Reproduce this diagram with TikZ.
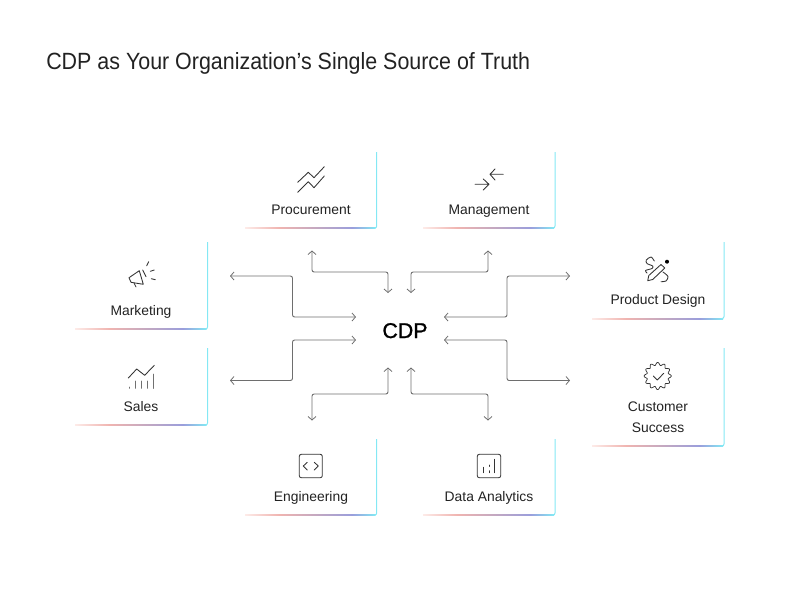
\documentclass[tikz,border=0pt]{standalone}
\usepackage{fontspec}
\setmainfont{Liberation Sans}
\newfontfamily\cdpfont[FakeBold=1.2]{Liberation Sans}
\newfontfamily\titlefont[FakeStretch=0.913]{Liberation Sans}
\usetikzlibrary{arrows.meta}
\definecolor{txt}{HTML}{222222}
\definecolor{conn}{HTML}{6E6E6E}
\definecolor{icon}{HTML}{333333}
\definecolor{edge}{HTML}{84E8F4}
\definecolor{ga}{HTML}{FDEBE8}
\definecolor{gb}{HTML}{F0B4B0}
\definecolor{gc}{HTML}{C4A8C0}
\definecolor{gd}{HTML}{9A9EDC}
\pgfdeclarehorizontalshading{rulegrad}{100bp}{color(0bp)=(ga); color(25bp)=(ga); color(38bp)=(gb); color(52bp)=(gc); color(66bp)=(gd); color(75bp)=(edge); color(100bp)=(edge)}
\tikzset{
  panelline/.style={draw=edge,line width=0.75pt,rounded corners=1.5pt},
  label/.style={font=\fontsize{10.4}{12}\selectfont,text=txt,inner sep=0pt,anchor=base},
  link/.style={draw=conn,line width=0.7pt,rounded corners=1.6pt,{Straight Barb[length=2.6pt,width=6pt,line width=0.6pt]}-{Straight Barb[length=2.6pt,width=6pt,line width=0.6pt]}},
  ic/.style={draw=icon,line width=0.65pt,line join=round,line cap=round},
}
\newcommand\cardframe[4]{% left top right bottom
  \shade[shading=rulegrad] (#1,#4-0.5) rectangle (#3-1,#4+0.5);
  \path[panelline] (#3,#2) -- (#3,#4) -- (#3-3,#4);
}
\begin{document}
\begin{tikzpicture}[x=0.75pt,y=-0.75pt]
\useasboundingbox (0,0) rectangle (800,612);
\node[anchor=base west,inner sep=0pt,font=\fontsize{17.6}{20}\titlefont,text=txt] (title) at (46,69) {CDP as Your Organization’s Single Source of Truth};
\node[anchor=base,inner sep=0pt,font=\fontsize{16}{18}\cdpfont,text=black] (cdp) at (405,338) {CDP};
% cards
\cardframe{245}{152}{376.7}{228}
\cardframe{423}{152}{555}{228}
\cardframe{75}{242}{207.5}{329}
\cardframe{75}{348}{207.5}{425}
\cardframe{592}{242}{724}{318.5}
\cardframe{592}{348}{724}{446}
\cardframe{245}{439}{376.7}{515}
\cardframe{423}{439}{555}{515}
% labels
\node[label] (procurement) at (311,214) {Procurement};
\node[label] (management) at (489,214) {Management};
\node[label] (marketing) at (141,315.2) {Marketing};
\node[label] (sales) at (141,411.3) {Sales};
\node[label] (design) at (658,304.7) {Product Design};
\node[label] (customer) at (658,411.3) {Customer};
\node[label] (success) at (658,432.3) {Success};
\node[label] (engineering) at (311,501) {Engineering};
\node[label] (analytics) at (489,501) {Data Analytics};
% connector ends
\coordinate (pA) at (312,250.5); \coordinate (pB) at (388,293);
\coordinate (mA) at (488,250.5); \coordinate (mB) at (411,293);
\coordinate (kA) at (230,276); \coordinate (kB) at (356,317);
\coordinate (sA) at (230,380.5); \coordinate (sB) at (356,340);
\coordinate (dA) at (570,276); \coordinate (dB) at (444,317);
\coordinate (cA) at (570,380.5); \coordinate (cB) at (444,340);
\coordinate (eA) at (312,420.5); \coordinate (eB) at (388,367.5);
\coordinate (aA) at (488,420.5); \coordinate (aB) at (411,367.5);
\draw[link] (pA) -- (312,272) -- (388,272) -- (pB);
\draw[link] (mA) -- (488,272) -- (411,272) -- (mB);
\draw[link] (kA) -- (292.5,276) -- (292.5,317) -- (kB);
\draw[link] (sA) -- (292.5,380.5) -- (292.5,340) -- (sB);
\draw[link] (dA) -- (507,276) -- (507,317) -- (dB);
\draw[link] (cA) -- (507,380.5) -- (507,340) -- (cB);
\draw[link] (eA) -- (312,394) -- (388,394) -- (eB);
\draw[link] (aA) -- (488,394) -- (411,394) -- (aB);
% icon: procurement
\draw[ic] (297.7,182.3) -- (308.3,172.3) -- (314,177.7) -- (324.3,166.7);
\draw[ic] (297.7,192.3) -- (308.3,181.7) -- (314,187.7) -- (324.3,176);
% icon: management
\draw[ic] (503.3,174.3) -- (490,174.3) (495,169) -- (490,174.3) -- (495,180);
\draw[ic] (475,184.3) -- (489,184.3) (483.3,179) -- (489,184.3) -- (483.3,190);
% icon: marketing
\draw[ic] (129,277.7) -- (139.3,270.7) -- (143.3,284.3) -- (131,282.3) -- cycle;
\draw[ic] (134,283) -- (136,287);
\draw[ic] (142.7,270) -- (146,276.7);
\draw[ic] (146.7,265.7) -- (148.7,261.7);
\draw[ic] (150.3,271.3) -- (154.3,270);
\draw[ic] (151.3,278.7) -- (155.3,279.7);
% icon: sales
\draw[ic] (128.3,378) -- (136.7,369) -- (144.7,375.3) -- (154.3,365.3);
\draw[ic,draw=icon!70] (129.3,387) -- (129.3,388.3) (135.7,381) -- (135.7,388.3) (141.7,381) -- (141.7,388.3) (147.7,381) -- (147.7,388.3);
\draw[ic,draw=icon!70,line width=0.95pt] (153.7,374.3) -- (153.7,388.3);
% icon: product design
\draw[ic] plot[smooth] coordinates {(654.3,261) (651,257) (646.3,260) (647,263.5) (652.7,266) (652,268.5) (645.5,270.5) (647,273)};
\draw[ic] plot[smooth] coordinates {(663,272) (668,276.5) (666,281) (661,281.7)};
\draw[ic,fill=white] (647.7,280.7) -- (648.8,275.5) -- (661,264.5) -- (664.8,268) -- (652.7,279.5) -- cycle;
\fill[black] (667,261.7) circle (2);
% icon: customer success
\draw[ic,line width=0.55pt] plot[domain=0:360,samples=145,smooth] ({657.7+(12.2+1.4*cos(12*\x))*cos(\x)},{376+(12.2+1.4*cos(12*\x))*sin(\x)}) -- cycle;
\draw[ic] (653.3,376) -- (657.3,380) -- (663.7,373.3);
% icon: engineering
\draw[ic,rounded corners=1.5pt] (299.3,454.3) rectangle (322.3,477.7);
\draw[ic] (307.3,462.3) -- (303.3,466) -- (307.3,470);
\draw[ic] (314.3,462.3) -- (318.3,466) -- (314.3,470);
% icon: data analytics
\draw[ic,rounded corners=1.5pt] (477.3,454.3) rectangle (500.7,477.7);
\draw[ic] (483.7,467.3) -- (483.7,472.7);
\draw[ic] (489,465) -- (489,466.5) (489,470.7) -- (489,472.7);
\draw[ic] (494.3,459.3) -- (494.3,472.7);
\end{tikzpicture}
\end{document}
